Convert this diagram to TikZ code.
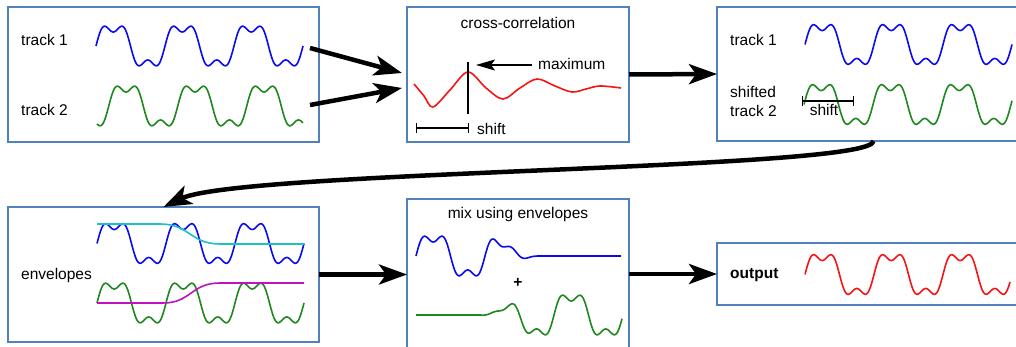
\documentclass[tikz,border=0pt]{standalone}
\usepackage{fontspec}
\setmainfont{Liberation Sans}
\usetikzlibrary{arrows.meta}
\definecolor{boxblue}{RGB}{79,129,189}
\definecolor{wblue}{RGB}{10,10,240}
\definecolor{wgreen}{RGB}{30,135,30}
\definecolor{wred}{RGB}{245,20,20}
\definecolor{wcyan}{RGB}{30,192,200}
\definecolor{wmag}{RGB}{192,16,192}
\begin{document}
\begin{tikzpicture}[x=1pt,y=-1pt,
  declare function={
    sqw(\x,\o)=sin(5.21739*(\x-\o))+sin(15.65217*(\x-\o))/3;
    cu(\x)=max(0,min(1,(\x-479)/60));
    ss(\x)=3*cu(\x)*cu(\x)-2*cu(\x)*cu(\x)*cu(\x);
  },
  panel/.style={draw=boxblue, line width=1.5pt, inner sep=0pt, outer sep=0pt},
  lbl/.style={inner sep=0pt, font=\fontsize{15.5}{18}\selectfont},
  wv/.style={line width=1.6pt, samples=260, line join=round},
  conn/.style={line width=4.5pt, -{Stealth[length=28pt,width=20pt,inset=7pt]}},
  thin/.style={line width=1.3pt},
  barline/.style={line width=1.3pt, {Bar[width=10pt]}-{Bar[width=10pt]}},
]
\clip (0,0) rectangle (1016,347);

% panels
\node[panel, minimum width=311pt, minimum height=135pt] (p1) at (163.5,74.5) {};
\node[panel, minimum width=222pt, minimum height=135pt] (p2) at (518,74.5) {};
\node[panel, minimum width=313pt, minimum height=134pt] (p3) at (873.5,74) {};
\node[panel, minimum width=311pt, minimum height=135pt] (p4) at (163.5,274.5) {};
\node[panel, minimum width=222pt, minimum height=161pt] (p5) at (518,279.5) {};
\node[panel, minimum width=313pt, minimum height=62pt] (p6) at (873.5,274) {};

% panel 1
\node[lbl, anchor=west] (t11) at (21,40) {track 1};
\node[lbl, anchor=west] (t12) at (21,110) {track 2};
\draw[wv, wblue] plot[domain=96:303] (\x, {46 - 21*sqw(\x,96)});
\draw[wv, wgreen] plot[domain=97:303] (\x, {106 - 21*sqw(\x,108.75)});

% panel 2
\node[lbl] (cc) at (518,23) {cross-correlation};
\draw[wv, wred] plot[smooth, tension=0.55] coordinates {(414,84) (424,96) (433,107) (450,90) (468,72) (486,88) (503,99) (520,88) (537,79) (555,86) (572,92) (586,89) (600,86) (621,88)};
\coordinate (vt) at (468,62);
\coordinate (vb) at (468,114);
\draw[thin] (vt) -- (vb);
\node[lbl, anchor=west] (mx) at (538,64) {maximum};
\coordinate (mxs) at (532,65);
\coordinate (mxe) at (476,65);
\draw[thin, -{Stealth[length=19pt,width=11pt,inset=4pt]}] (mxs) -- (mxe);
\coordinate (sa) at (416,128);
\coordinate (sb) at (469,128);
\draw[barline] (sa) -- (sb);
\node[lbl, anchor=west] (sh1) at (477,129) {shift};

% panel 3
\node[lbl, anchor=west] (t31) at (730,40) {track 1};
\node[lbl, anchor=west] (t32a) at (730,92) {shifted};
\node[lbl, anchor=west] (t32b) at (730,111) {track 2};
\draw[wv, wblue] plot[domain=805:1012] (\x, {44.5 - 21*sqw(\x,805)});
\draw[wv, wgreen] plot[domain=804:1012] (\x, {104.5 - 21*sqw(\x,804)});
\coordinate (sc) at (802,101);
\coordinate (sd) at (854,101);
\draw[barline] (sc) -- (sd);
\node[lbl] (sh2) at (824,110) {shift};

% panel 4
\node[lbl, anchor=west] (env) at (21,275) {envelopes};
\draw[wv, wblue] plot[domain=97:304] (\x, {243.5 - 21*sqw(\x,97)});
\draw[wv, wgreen] plot[domain=97:304] (\x, {303 - 21*sqw(\x,97)});
\draw[wv, wcyan] (97,224) -- (160,224) .. controls (190,224) and (190,244) .. (220,244) -- (304,244);
\draw[wv, wmag] (97,303) -- (163,303) .. controls (191,303) and (191,283) .. (220,283) -- (304,283);

% panel 5
\node[lbl] (mix) at (518,214) {mix using envelopes};
\draw[wv, wblue] plot[domain=416:621] (\x, {256 - 21*(1-ss(\x))*sqw(\x,416)});
\draw[wv, wgreen] plot[domain=416:622] (\x, {315 - 21*ss(\x)*sqw(\x,416)});
\node[lbl, font=\fontsize{15.5}{18}\selectfont\bfseries] (plus) at (518,283) {+};

% panel 6
\node[lbl, font=\fontsize{15.5}{18}\selectfont\bfseries, anchor=west] (out) at (730,275) {output};
\draw[wv, wred] plot[domain=805:1010] (\x, {274.5 - 21*sqw(\x,805)});

% connectors
\coordinate (a1s) at (310,48);
\coordinate (a1e) at (402,73);
\coordinate (a2s) at (310,105);
\coordinate (a2e) at (402,88);
\draw[conn] (a1s) -- (a1e);
\draw[conn] (a2s) -- (a2e);
\draw[conn] (p2.east) -- (p3.west);
\draw[conn] (p3.south) .. controls +(0,29) and +(77,-37) .. (p4.north);
\draw[conn] (p4.east) -- (p4.east -| p5.west);
\draw[conn] (p5.east |- p6.west) -- (p6.west);
\end{tikzpicture}
\end{document}
